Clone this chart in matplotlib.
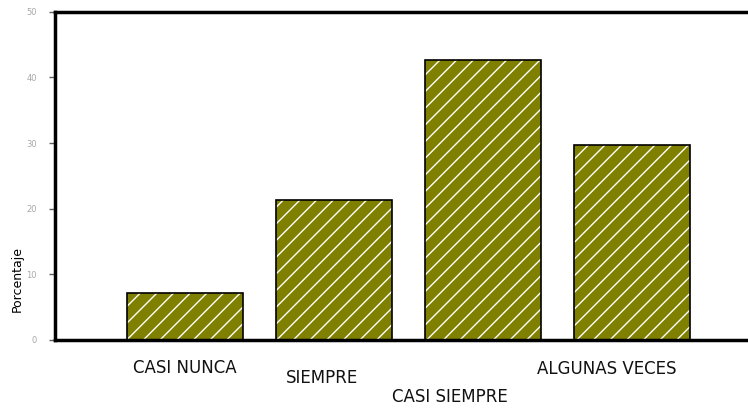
import numpy as np
import matplotlib.pyplot as plt

plt.rcParams['font.family'] = ['DejaVu Sans']
plt.rcParams['hatch.linewidth'] = 1.0

categories = ['CASI NUNCA', 'SIEMPRE', 'CASI SIEMPRE', 'ALGUNAS VECES']
values = [7.2, 21.3, 42.7, 29.7]
yticks = [0, 10, 20, 30, 40, 50]

# staggered label placement (x offset in bar units, y in axes fraction)
label_dx = [0.0, -0.08, -0.22, -0.17]
label_dy = [-0.085, -0.115, -0.175, -0.09]

fig = plt.figure(figsize=(7.48, 4.09), dpi=100)
ax = fig.add_axes([0.0735, 0.169, 0.9265, 0.802])

x = np.arange(len(categories))
# hatch takes the edge colour, so fill + white hatch first, black outline on top
ax.bar(x, values, width=0.78, color='#7f7f00', edgecolor='white',
       linewidth=0, hatch='//')
ax.bar(x, values, width=0.78, fill=False, edgecolor='black', linewidth=1.2)

ax.set_ylim(0, 50)
ax.set_xlim(-0.87, 3.78)
ax.set_yticks(yticks)
ax.set_yticklabels([str(t) for t in yticks], fontsize=6, color='#a8a8a8')
ax.tick_params(axis='y', direction='out', length=4, width=1, color='#606060', pad=9)
ax.set_xticks([])

for s in ['left', 'bottom', 'top']:
    ax.spines[s].set_linewidth(2.5)
ax.spines['right'].set_visible(False)

for i, lab in enumerate(categories):
    ax.text(x[i] + label_dx[i], label_dy[i], lab, transform=ax.get_xaxis_transform(),
            ha='center', va='center', fontsize=12, color='#111111')

ax.set_ylabel('Porcentaje', fontsize=9)
ax.yaxis.set_label_coords(-0.045, 0.185)

fig.savefig('out.png', dpi=100)
